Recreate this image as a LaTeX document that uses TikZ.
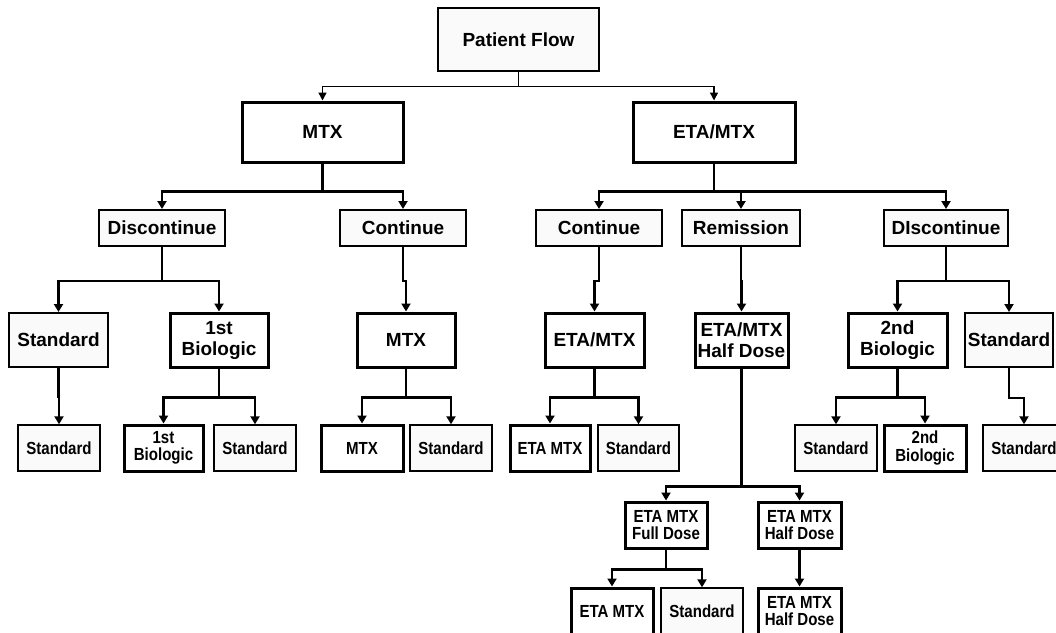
\documentclass[tikz,border=0pt]{standalone}
\usepackage{fontspec}
\setmainfont{Liberation Sans}
\newfontfamily\narrowsans[FakeStretch=0.86]{Liberation Sans}
\usetikzlibrary{arrows.meta}
\definecolor{boxfill}{RGB}{250,250,250}
\tikzset{
  base/.style={draw=black, align=center, inner sep=0pt, font=\bfseries},
  thinbox/.style={base, line width=1.4pt, fill=boxfill},
  medbox/.style={base, line width=2pt, fill=boxfill},
  thickbox/.style={base, line width=3pt, fill=white},
  fA/.style={font=\fontsize{19}{21}\selectfont\bfseries},
  fB/.style={font=\narrowsans\fontsize{17.5}{17.5}\selectfont\bfseries},
  conn/.style={line width=2.4pt, -{Triangle[length=8pt,width=9pt]}},
  connthin/.style={line width=1.5pt, -{Triangle[length=8pt,width=8pt]}},
}
\begin{document}
\begin{tikzpicture}[x=1pt,y=-1pt]
\useasboundingbox (0,0) rectangle (1056,632);
\clip (0,0) rectangle (1056,632);
% row 1
\node[thinbox,fA,minimum width=161pt,minimum height=63pt] (pf) at (518.5,39.5) {Patient Flow};
% row 1b
\node[thickbox,fA,minimum width=161pt,minimum height=60pt] (mtxA) at (322.5,132) {MTX};
\node[thickbox,fA,minimum width=162pt,minimum height=60pt] (etaA) at (714,132) {ETA/MTX};
% row 2
\node[medbox,fA,minimum width=126pt,minimum height=36pt] (discL) at (162,228) {Discontinue};
\node[medbox,fA,minimum width=126pt,minimum height=36pt] (contL) at (403,228) {Continue};
\node[medbox,fA,minimum width=126pt,minimum height=36pt] (contR) at (599,228) {Continue};
\node[medbox,fA,minimum width=118pt,minimum height=36pt] (rem) at (741,228) {Remission};
\node[medbox,fA,minimum width=124pt,minimum height=36pt] (discR) at (946,228) {DIscontinue};
% row 3
\node[medbox,fA,minimum width=99pt,minimum height=54pt] (std3a) at (58.5,340) {Standard};
\node[thickbox,fA,minimum width=98pt,minimum height=54pt] (bio1) at (219,340) {1st\\Biologic};
\node[thickbox,fA,minimum width=98pt,minimum height=54pt] (mtx3) at (406,340) {MTX};
\node[thickbox,fA,minimum width=99pt,minimum height=54pt] (eta3) at (594.5,340) {ETA/MTX};
\node[thickbox,fA,minimum width=93pt,minimum height=54pt] (half3) at (741.5,340) {ETA/MTX\\Half Dose};
\node[thickbox,fA,minimum width=99pt,minimum height=54pt] (bio2) at (897.5,340) {2nd\\Biologic};
\node[medbox,fA,minimum width=88pt,minimum height=54pt] (std3b) at (1009,340) {Standard};
% row 4
\node[thinbox,fB,minimum width=82pt,minimum height=46pt] (std4a) at (59,448) {Standard};
\node[thickbox,fB,minimum width=79pt,minimum height=46pt] (bio1b) at (163.5,448) {1st\\Biologic};
\node[thinbox,fB,minimum width=82pt,minimum height=46pt] (std4b) at (255,448) {Standard};
\node[thickbox,fB,minimum width=82pt,minimum height=46pt] (mtx4) at (362,448) {MTX};
\node[thinbox,fB,minimum width=82pt,minimum height=46pt] (std4c) at (451,448) {Standard};
\node[thickbox,fB,minimum width=80pt,minimum height=46pt] (eta4) at (550,448) {ETA MTX};
\node[thinbox,fB,minimum width=81pt,minimum height=46pt] (std4d) at (638.5,448) {Standard};
\node[thinbox,fB,minimum width=82pt,minimum height=46pt] (std4e) at (836,448) {Standard};
\node[thickbox,fB,minimum width=82pt,minimum height=46pt] (bio2b) at (925,448) {2nd\\Biologic};
\node[thinbox,fB,minimum width=82pt,minimum height=46pt] (std4f) at (1024,448) {Standard};
% row 5
\node[thickbox,fB,minimum width=82pt,minimum height=46pt] (full5) at (666,525) {ETA MTX\\Full Dose};
\node[thickbox,fB,minimum width=83pt,minimum height=46pt] (half5) at (799.5,525) {ETA MTX\\Half Dose};
% row 6
\node[thickbox,fB,minimum width=82pt,minimum height=46pt] (eta6) at (612,611) {ETA MTX};
\node[thinbox,fB,minimum width=82pt,minimum height=46pt] (std6) at (702,611) {Standard};
\node[thickbox,fB,minimum width=83pt,minimum height=46pt] (half6) at (799.5,611) {ETA MTX\\Half Dose};
% connectors
\draw[connthin] (pf.south) -- ++(0,15) -| (mtxA.north);
\draw[connthin] (pf.south) -- ++(0,15) -| (etaA.north);
\draw[conn] (mtxA.south) -- ++(0,28) -| (discL.north);
\draw[conn] (mtxA.south) -- ++(0,28) -| (contL.north);
\draw[conn] (etaA.south) -- ++(0,28) -| (contR.north);
\draw[conn] (etaA.south) -- ++(0,28) -| (rem.north);
\draw[conn] (etaA.south) -- ++(0,28) -| (discR.north);
\draw[conn] (discL.south) -- ++(0,34) -| (std3a.north);
\draw[conn] (discL.south) -- ++(0,34) -| (bio1.north);
\draw[conn] (contL.south) -- ++(0,34) -| (mtx3.north);
\draw[conn] (contR.south) -- ++(0,34) -| (eta3.north);
\draw[conn] (rem.south) -- ++(0,34) -| (half3.north);
\draw[conn] (discR.south) -- ++(0,34) -| (bio2.north);
\draw[conn] (discR.south) -- ++(0,34) -| (std3b.north);
\draw[conn] (std3a.south) -- ++(0,29) -| (std4a.north);
\draw[conn] (bio1.south) -- ++(0,29) -| (bio1b.north);
\draw[conn] (bio1.south) -- ++(0,29) -| (std4b.north);
\draw[conn] (mtx3.south) -- ++(0,29) -| (mtx4.north);
\draw[conn] (mtx3.south) -- ++(0,29) -| (std4c.north);
\draw[conn] (eta3.south) -- ++(0,29) -| (eta4.north);
\draw[conn] (eta3.south) -- ++(0,29) -| (std4d.north);
\draw[conn] (bio2.south) -- ++(0,29) -| (std4e.north);
\draw[conn] (bio2.south) -- ++(0,29) -| (bio2b.north);
\draw[conn] (std3b.south) -- ++(0,30) -| (std4f.north);
\draw[conn] (half3.south) -- ++(0,118) -| (full5.north);
\draw[conn] (half3.south) -- ++(0,118) -| (half5.north);
\draw[conn] (full5.south) -- ++(0,20) -| (eta6.north);
\draw[conn] (full5.south) -- ++(0,20) -| (std6.north);
\draw[conn] (half5.south) -- (half6.north);
\end{tikzpicture}
\end{document}
